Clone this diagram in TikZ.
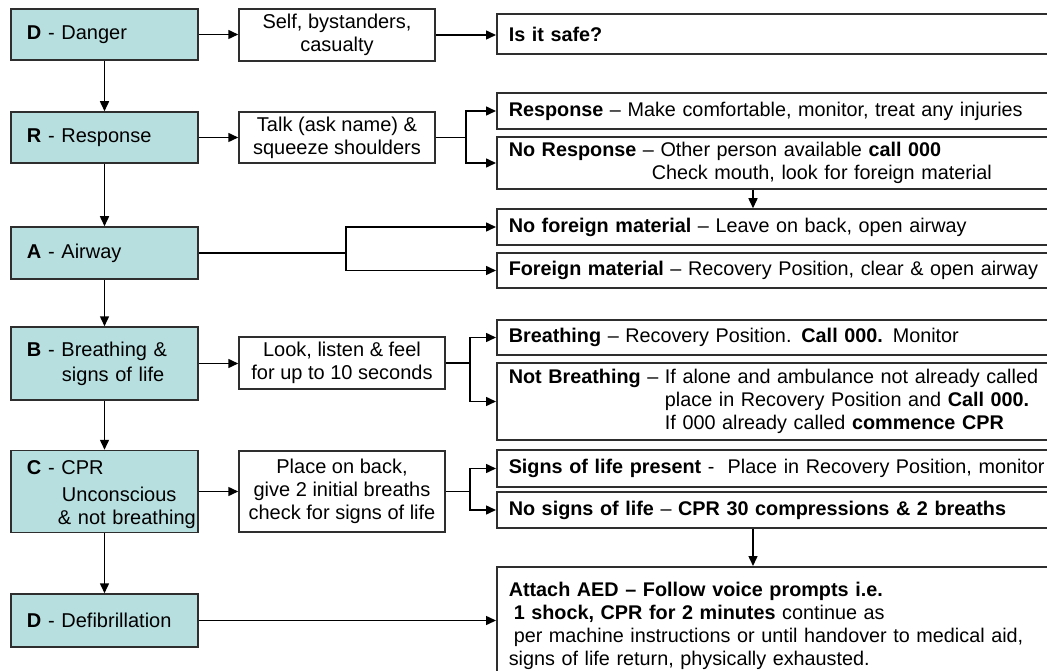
\documentclass[tikz,border=0pt]{standalone}
\usepackage{fontspec}
\setmainfont{Liberation Sans}
\usetikzlibrary{arrows.meta}
\definecolor{tealfill}{HTML}{B7DFE0}
\definecolor{boxline}{HTML}{2E2E2E}
\begin{document}
\begin{tikzpicture}[x=1pt,y=-1pt,
  lbox/.style={draw=boxline, line width=1.5pt, fill=tealfill, minimum width=187pt, text width=155pt, inner xsep=16pt, inner ysep=0pt, align=left, font=\fontsize{20}{23}\selectfont},
  mbox/.style={draw=boxline, line width=1.5pt, fill=white, inner sep=0pt, align=center, font=\fontsize{20}{23}\selectfont},
  rbox/.style={draw=boxline, line width=1.5pt, fill=white, anchor=west, text width=580pt, inner xsep=12pt, inner ysep=0pt, align=left, font=\fontsize{19.8}{23}\selectfont},
  conn/.style={line width=1.5pt, black},
  arr/.style={conn, -{Triangle[length=10pt,width=9pt]}}
]
\clip (0,0) rectangle (1047,671);
\fill[white] (0,0) rectangle (1047,671);

% left column
\node[lbox, minimum height=51pt] (D) at (104.5,34.5) {\textbf{D} - Danger};
\node[lbox, minimum height=51pt] (R) at (104.5,137.5) {\textbf{R} - Response};
\node[lbox, minimum height=52pt] (A) at (104.5,253) {\textbf{A} - Airway};
\node[lbox, minimum height=73pt] (B) at (104.5,363.5) {\textbf{B} - Breathing \&\\[2pt]\hspace*{35pt}signs of life};
\node[lbox, minimum height=82pt] (C) at (104.5,491.5) {\textbf{C} - CPR\rule{0pt}{21pt}\\[3.5pt]\hspace*{35pt}Unconscious\\[0.5pt]\hspace*{31pt}\rlap{\& not breathing}};
\node[lbox, minimum height=53pt] (DF) at (104.5,620.5) {\textbf{D} - Defibrillation};

% middle column
\node[mbox, minimum width=196pt, minimum height=52pt] (Self) at (337,35) {Self, bystanders,\\casualty};
\node[mbox, minimum width=196pt, minimum height=51pt] (Talk) at (337,137.5) {Talk (ask name) \&\\squeeze shoulders};
\node[mbox, minimum width=206pt, minimum height=52pt] (Look) at (342,363) {Look, listen \& feel\\for up to 10 seconds};
\node[mbox, minimum width=206pt, minimum height=81pt] (Place) at (342,491.5) {Place on back,\\give 2 initial breaths\\check for signs of life};

% right column
\node[rbox, minimum height=40pt] (Safe) at (496,34) {\textbf{Is it safe?}};
\node[rbox, minimum height=36pt] (Resp) at (496,111) {\textbf{Response} – Make comfortable, monitor, treat any injuries};
\node[rbox, minimum height=52pt] (NoResp) at (496,163) {\textbf{No Response} – Other person available \textbf{call 000}\\\hspace*{143pt}Check mouth, look for foreign material};
\node[rbox, minimum height=36pt] (NoFor) at (496,227) {\textbf{No foreign material} – Leave on back, open airway};
\node[rbox, minimum height=35pt] (For) at (496,270.5) {\textbf{Foreign material} – Recovery Position, clear \& open airway};
\node[rbox, minimum height=35pt] (Br) at (496,337.5) {\textbf{Breathing} – Recovery Position. \textbf{Call 000.} Monitor};
\node[rbox, minimum height=77pt] (NotBr) at (496,401.5) {\textbf{Not Breathing} – If alone and ambulance not already called\\\hphantom{\textbf{Not Breathing} – }place in Recovery Position and \textbf{Call 000.}\\\hphantom{\textbf{Not Breathing} – }If 000 already called \textbf{commence CPR}};
\node[rbox, minimum height=37pt] (Sig) at (496,468.5) {\textbf{Signs of life present} -\ \ Place in Recovery Position, monitor};
\node[rbox, minimum height=36pt] (NoSig) at (496,510) {\textbf{No signs of life} – \textbf{CPR 30 compressions \& 2 breaths}};
\node[rbox, anchor=north west, inner ysep=15pt] (AED) at (496,566) {\textbf{Attach AED – Follow voice prompts i.e.}\\\hspace*{5pt}\textbf{1 shock, CPR for 2 minutes} continue as\\\hspace*{5pt}per machine instructions or until handover to medical aid,\\signs of life return, physically exhausted.};

% vertical chain
\draw[arr] (D) -- (R);
\draw[arr] (R) -- (A);
\draw[arr] (A) -- (B);
\draw[arr] (B) -- (C);
\draw[arr] (C) -- (DF);

% row D
\draw[arr] (D.east) -- (D.east -| Self.west);
\draw[arr] (Self.east) -- (Self.east -| Safe.west);

% row R
\draw[arr] (R.east) -- (R.east -| Talk.west);
\coordinate (f1) at (466,137.5);
\draw[conn] (Talk.east) -- (f1);
\draw[arr] (f1) |- (Resp.west);
\draw[arr] (f1) |- (NoResp.west);
\coordinate (cx) at (753,0);
\draw[arr] (NoResp.south -| cx) -- (NoFor.north -| cx);

% row A
\coordinate (fa) at (346,253);
\draw[conn] (A.east) -- (fa);
\draw[arr] (fa) |- (NoFor.west);
\draw[arr] (fa) |- (For.west);

% row B
\draw[arr] (B.east) -- (B.east -| Look.west);
\coordinate (fb) at (470,363);
\draw[conn] (Look.east) -- (fb);
\draw[arr] (fb) |- (Br.west);
\draw[arr] (fb) |- (NotBr.west);

% row C
\draw[arr] (C.east) -- (C.east -| Place.west);
\coordinate (fc) at (470,491.5);
\draw[conn] (Place.east) -- (fc);
\draw[arr] (fc) |- (Sig.west);
\draw[arr] (fc) |- (NoSig.west);
\draw[arr] (NoSig.south -| cx) -- (AED.north -| cx);

% row D defib
\draw[arr] (DF.east) -- (DF.east -| AED.west);
\end{tikzpicture}
\end{document}
